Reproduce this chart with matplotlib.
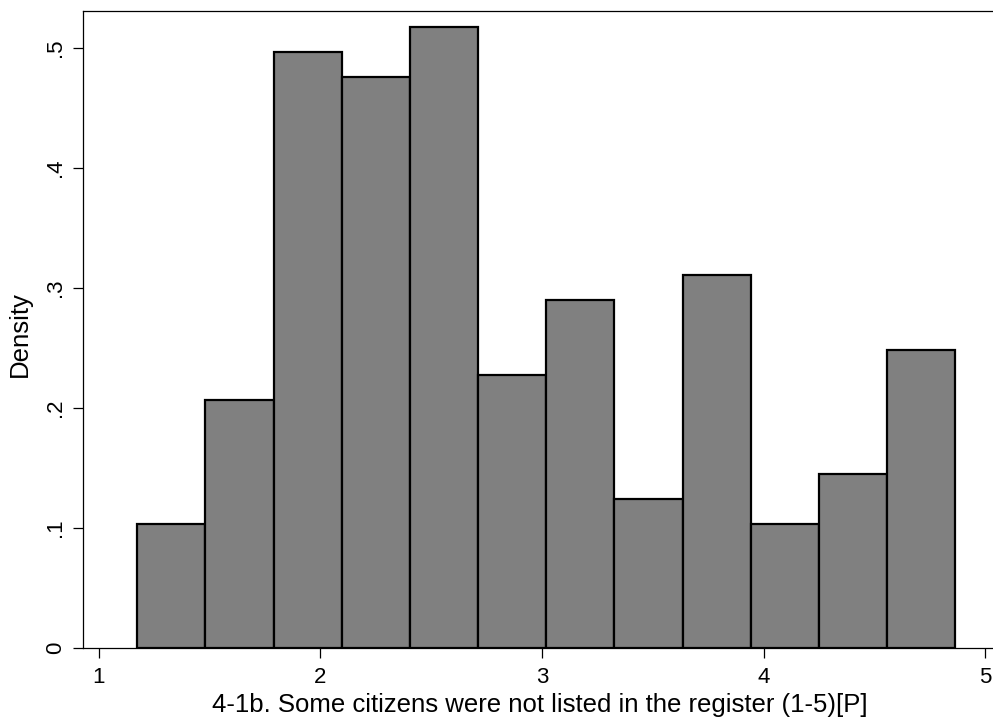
import numpy as np
import matplotlib
matplotlib.use('Agg')
import matplotlib.pyplot as plt

plt.rcParams['font.family'] = ['Liberation Sans', 'DejaVu Sans']

# ── Data ─────────────────────────────────────────────────────────
bin_start = 1.173
bin_width = 0.3077
density = [0.1035, 0.2070, 0.4970, 0.4760, 0.5175, 0.2277,
           0.2898, 0.1242, 0.3105, 0.1035, 0.1449, 0.2484]
x_ticks = [1, 2, 3, 4, 5]
y_ticks = [0, 0.1, 0.2, 0.3, 0.4, 0.5]
y_tick_labels = ['0', '.1', '.2', '.3', '.4', '.5']
x_label = '4-1b. Some citizens were not listed in the register (1-5)[P]'
y_label = 'Density'

# ── Figure ───────────────────────────────────────────────────────
fig = plt.figure(figsize=(9.93, 7.24), dpi=100)
ax = fig.add_axes([0.0836, 0.105, 0.9164, 0.880])

lefts = bin_start + bin_width * np.arange(len(density))
ax.bar(lefts, density, width=bin_width, align='edge',
       color='#808080', edgecolor='black', linewidth=1.6)

ax.set_xlim(0.928, 5.036)
ax.set_ylim(0, 0.531)
ax.set_xticks(x_ticks)
ax.set_xticklabels([str(t) for t in x_ticks])
ax.set_yticks(y_ticks)
ax.set_yticklabels(y_tick_labels, rotation=90, va='center')
ax.tick_params(axis='both', direction='out', length=7, width=0.9,
               labelsize=16, colors='black')
ax.tick_params(axis='x', pad=7)
ax.tick_params(axis='y', pad=5)

# axis titles, placed where the reference has them
ax.set_xlabel(x_label, fontsize=18.5, va='center')
ax.xaxis.set_label_coords(0.502, -0.089)
ax.set_ylabel(y_label, fontsize=18.5, va='center')
ax.yaxis.set_label_coords(-0.069, 0.493)

ax.spines['right'].set_visible(False)
for s in ['left', 'bottom', 'top']:
    ax.spines[s].set_linewidth(0.9)

fig.savefig('out.png', dpi=100)
